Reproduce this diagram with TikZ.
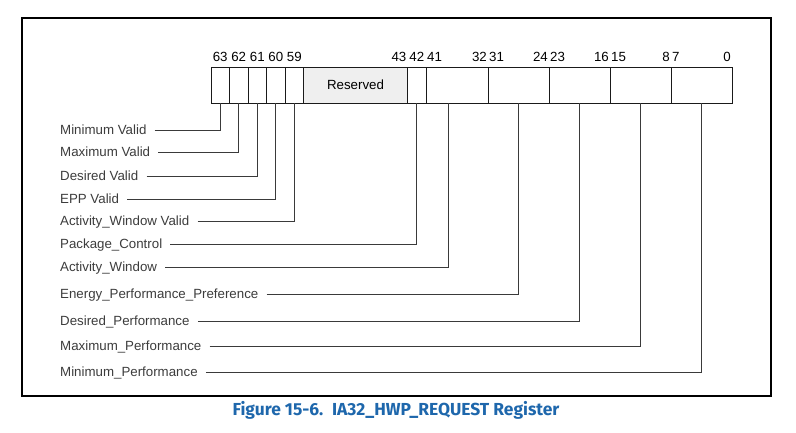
\documentclass[tikz,border=0pt]{standalone}
\usepackage{fontspec}
\setmainfont{Liberation Sans}
\newfontfamily\capfont{Fira Sans}
\usepackage{tikz}
\usetikzlibrary{positioning}
\definecolor{ink}{HTML}{1A1A1A}
\definecolor{leader}{HTML}{3A3A3A}
\definecolor{resfill}{HTML}{EFEFEF}
\definecolor{capblue}{HTML}{1E67AC}

\begin{document}
\begin{tikzpicture}[
  x=1pt, y=-1pt,
  font=\fontsize{13.3}{15}\selectfont,
  cell/.style={draw=ink, line width=0.9pt, outer sep=0pt, inner sep=0pt,
               minimum height=36pt},
  bitcell/.style={cell, minimum width=18.5pt},
  bit/.style={inner xsep=1pt, inner ysep=0pt, text height=9.6pt, text depth=0pt},
  lbl/.style={anchor=west, inner sep=0pt, text height=9.6pt, text depth=0pt, text=ink!85},
  lead/.style={draw=leader, line width=0.9pt, shorten <=8pt}
]
\useasboundingbox (0,0) rectangle (796,432);
\draw[line width=1.5pt] (22,18) rectangle (771,396);

% register cells
\node[bitcell, anchor=north west] (c63) at (211,67) {};
\node[bitcell, right=0pt of c63] (c62) {};
\node[bitcell, right=0pt of c62] (c61) {};
\node[bitcell, right=0pt of c61] (c60) {};
\node[bitcell, right=0pt of c60] (c59) {};
\node[cell, fill=resfill, minimum width=104pt, right=0pt of c59] (res) {Reserved};
\node[bitcell, right=0pt of res] (c42) {};
\node[cell, minimum width=62pt, right=0pt of c42] (c41) {};
\node[cell, minimum width=61pt, right=0pt of c41] (c31) {};
\node[cell, minimum width=61pt, right=0pt of c31] (c23) {};
\node[cell, minimum width=61pt, right=0pt of c23] (c15) {};
\node[cell, minimum width=61pt, right=0pt of c15] (c7) {};

% bit numbers
\node[bit, above=5pt of c63] {63};
\node[bit, above=5pt of c62] {62};
\node[bit, above=5pt of c61] {61};
\node[bit, above=5pt of c60] {60};
\node[bit, above=5pt of c59] {59};
\node[bit, anchor=south east] at ([yshift=5pt]res.north east) {43};
\node[bit, above=5pt of c42] {42};
\node[bit, anchor=south west] at ([yshift=5pt]c41.north west) {41};
\node[bit, anchor=south east] at ([yshift=5pt]c41.north east) {32};
\node[bit, anchor=south west] at ([yshift=5pt]c31.north west) {31};
\node[bit, anchor=south east] at ([yshift=5pt]c31.north east) {24};
\node[bit, anchor=south west] at ([yshift=5pt]c23.north west) {23};
\node[bit, anchor=south east] at ([yshift=5pt]c23.north east) {16};
\node[bit, anchor=south west] at ([yshift=5pt]c15.north west) {15};
\node[bit, anchor=south east] at ([yshift=5pt]c15.north east) {8};
\node[bit, anchor=south west] at ([yshift=5pt]c7.north west) {7};
\node[bit, anchor=south east] at ([yshift=5pt]c7.north east) {0};

% field names
\node[lbl] (minv) at (60,130) {Minimum Valid};
\node[lbl] (maxv) at (60,152) {Maximum Valid};
\node[lbl] (desv) at (60,176) {Desired Valid};
\node[lbl] (eppv) at (60,199) {EPP Valid};
\node[lbl] (awv) at (60,221) {Activity\_Window Valid};
\node[lbl] (pkg) at (60,244) {Package\_Control};
\node[lbl] (aw) at (60,267) {Activity\_Window};
\node[lbl] (epp) at (60,294) {Energy\_Performance\_Preference};
\node[lbl] (desp) at (60,321) {Desired\_Performance};
\node[lbl] (maxp) at (60,346) {Maximum\_Performance};
\node[lbl] (minp) at (60,372) {Minimum\_Performance};

\coordinate (awtap) at ([xshift=-9pt]c41.south);
\draw[lead] (minv.east) -| (c63.south);
\draw[lead] (maxv.east) -| (c62.south);
\draw[lead] (desv.east) -| (c61.south);
\draw[lead] (eppv.east) -| (c60.south);
\draw[lead] (awv.east) -| (c59.south);
\draw[lead] (pkg.east) -| (c42.south);
\draw[lead] (aw.east) -| (awtap);
\draw[lead] (epp.east) -| (c31.south);
\draw[lead] (desp.east) -| (c23.south);
\draw[lead] (maxp.east) -| (c15.south);
\draw[lead] (minp.east) -| (c7.south);

\node[font=\capfont\bfseries\fontsize{17.4}{19}\selectfont, text=capblue] (cap) at (396,410)
  {Figure 15-6.\enspace IA32\_HWP\_REQUEST Register};
\end{tikzpicture}
\end{document}
